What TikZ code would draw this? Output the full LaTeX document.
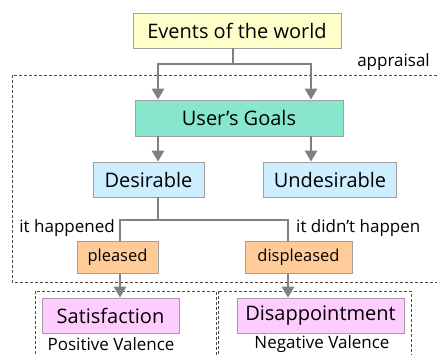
\documentclass[tikz,border=0pt]{standalone}
\usepackage{fontspec}
\setmainfont{Open Sans}
\usetikzlibrary{arrows.meta,patterns}
\definecolor{linegray}{HTML}{808080}
\definecolor{boxgray}{HTML}{A0A0A0}
\definecolor{yel}{HTML}{FFFFCC}
\definecolor{teal1}{HTML}{88E6CC}
\definecolor{blu}{HTML}{CCEEFF}
\definecolor{ora}{HTML}{FFCC99}
\definecolor{pnk}{HTML}{FFCCFF}
\tikzset{
  box/.style={draw=boxgray, line width=0.8pt, inner sep=0pt, font=\fontsize{20}{22}\selectfont},
  smallbox/.style={box, font=\fontsize{16.5}{18}\selectfont},
  conn/.style={draw=linegray, line width=2.8pt},
  arr/.style={conn, -{Triangle[width=12pt,length=11pt]}},
  frame/.style={draw=black!70, line width=0.7pt, dash pattern=on 3pt off 2pt},
  lab/.style={font=\fontsize{17}{19}\selectfont, inner sep=0pt},
}
\begin{document}
\begin{tikzpicture}[x=1pt,y=-1pt]
\useasboundingbox (0,0) rectangle (437,354);
\begin{scope}
\clip (0,0) rectangle (437,354);
\draw[frame] (12,75) rectangle (445,282);
\draw[frame] (35,291) rectangle (216,360);
\draw[frame] (218,291) rectangle (411,360);
\end{scope}
\node[box, fill=yel, minimum width=208pt, minimum height=35pt] (events) at (237,30.5) {Events of the world};
\node[box, fill=teal1, minimum width=208pt, minimum height=36pt] (goals) at (239,118) {User's Goals};
\node[box, fill=blu, minimum width=111pt, minimum height=35pt] (des) at (148.5,179.5) {Desirable};
\node[box, fill=blu, minimum width=133pt, minimum height=35pt] (undes) at (330,179.5) {Undesirable};
\node[smallbox, fill=ora, minimum width=81pt, minimum height=32pt] (pleased) at (117.5,257.5) {pleased};
\node[smallbox, fill=ora, minimum width=107pt, minimum height=32pt] (displeased) at (298.5,257.5) {displeased};
\node[box, fill=pnk, minimum width=137pt, minimum height=35pt] (sat) at (110.5,315.5) {Satisfaction};
\node[box, fill=pnk, minimum width=167pt, minimum height=35pt] (dis) at (320.5,315.5) {Disappointment};
\node[lab, anchor=east] (appr) at (430,62) {appraisal};
\node[lab, anchor=east] (hap) at (115,228) {it happened};
\node[lab, anchor=west] (nhap) at (296,228) {it didn't happen};
\node[lab] (pos) at (111,344) {Positive Valence};
\node[lab] (neg) at (322,344) {Negative Valence};
\coordinate (j1) at (233,64);
\coordinate (j2) at (158,220);
\draw[conn] (events.south -| j1) -- (j1);
\draw[arr] (j1) -| (goals.north -| 158,0);
\draw[arr] (j1) -| (goals.north -| 311,0);
\draw[arr] (goals.south -| 158,0) -- (des.north -| 158,0);
\draw[arr] (goals.south -| 311,0) -- (undes.north -| 311,0);
\draw[conn] (des.south -| j2) -- (j2);
\draw[conn] (j2) -| (pleased.north -| 120,0);
\draw[conn] (j2) -| (displeased.north -| 288,0);
\draw[arr] (pleased.south -| 120,0) -- (sat.north -| 120,0);
\draw[arr] (displeased.south -| 288,0) -- (dis.north -| 288,0);
\end{tikzpicture}
\end{document}
